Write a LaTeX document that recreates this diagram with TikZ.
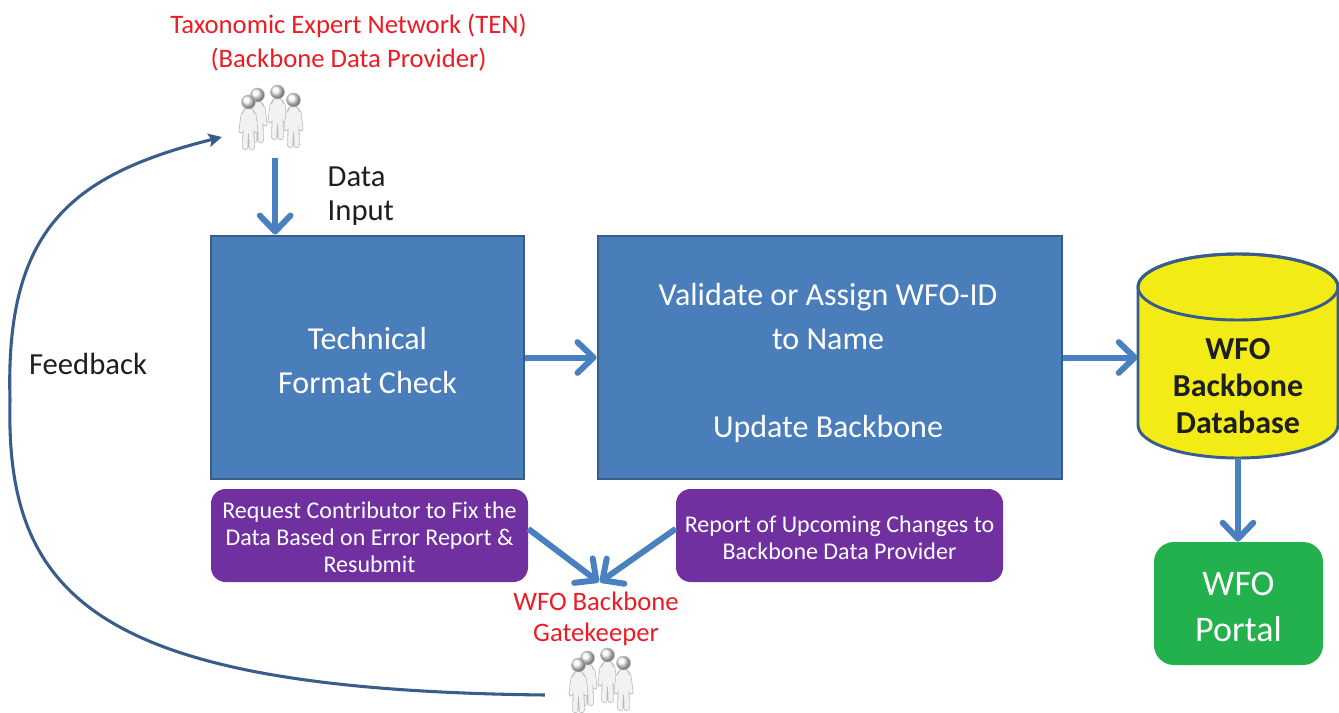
\documentclass[tikz,border=0pt]{standalone}
\usepackage{fontspec}
\setmainfont{Carlito}
\usetikzlibrary{arrows.meta}
\definecolor{boxblue}{RGB}{74,126,187}
\definecolor{boxedge}{RGB}{56,93,138}
\definecolor{arrowblue}{RGB}{72,128,192}
\definecolor{fbblue}{RGB}{56,93,138}
\definecolor{wfopurple}{RGB}{112,48,160}
\definecolor{portalgreen}{RGB}{34,177,76}
\definecolor{dbyellow}{RGB}{242,235,22}
\definecolor{labelred}{RGB}{237,28,36}
\definecolor{ink}{RGB}{30,30,30}
\tikzset{
  person/.pic={
    \draw[personedge, line width=3.6pt] (-5.5,13) -- (-7.5,29) (5.5,13) -- (7.5,29);
    \draw[personedge, line width=4.6pt] (-2.8,28) -- (-3.2,45) (2.8,28) -- (3.2,45);
    \draw[personedge, line width=9.6pt] (0,12) -- (0,26);
    \draw[personfill, line width=2.6pt] (-5.5,13) -- (-7.5,29) (5.5,13) -- (7.5,29);
    \draw[personfill, line width=3.4pt] (-2.8,28) -- (-3.2,45) (2.8,28) -- (3.2,45);
    \draw[personfill, line width=8.4pt] (0,12) -- (0,26);
    \shade[ball color=gray!8] (0,0) circle [radius=7];
    \draw[gray!50, line width=0.4pt] (0,0) circle [radius=7];
  },
  personedge/.style={draw=gray!55, line cap=round},
  personfill/.style={draw=gray!10, line cap=round},
  bluebox/.style={draw=boxedge, line width=2.2pt, fill=boxblue, inner sep=0pt},
  boxtext/.style={text=white, font=\fontsize{24}{33}\selectfont, align=center, inner sep=0pt},
  actionbox/.style={fill=wfopurple, rounded corners=11pt, inner sep=0pt},
  actiontext/.style={text=white, font=\fontsize{18}{20.25}\selectfont, align=center, inner sep=0pt},
  redlabel/.style={text=labelred, align=center},
  note/.style={text=ink, font=\fontsize{23}{25}\selectfont, align=left},
  iconbox/.style={minimum width=50pt, minimum height=49pt, inner sep=0pt},
  dbbox/.style={minimum width=150pt, minimum height=153pt, inner sep=0pt},
  dbtext/.style={text=ink, font=\fontsize{24}{28}\selectfont\bfseries, align=center},
  portalbox/.style={fill=portalgreen, rounded corners=15pt, inner sep=0pt,
    minimum width=126.75pt, minimum height=92.25pt},
  portaltext/.style={text=white, font=\fontsize{27}{34}\selectfont, align=center},
  flow/.style={draw=arrowblue, line width=4.5pt,
    -{Straight Barb[length=12pt, width=23pt, round]}},
  feedbackarrow/.style={draw=fbblue, line width=2.3pt,
    -{Stealth[length=10pt, width=10pt, inset=2pt]}},
}
\newcommand\wfocrowd[1]{%
  \begin{scope}[shift={#1}]
    \pic at (-11,-25) {person};
    \pic at (9,-28) {person};
    \pic at (-20,-18) {person};
    \pic at (25,-20) {person};
  \end{scope}}
\begin{document}
\begin{tikzpicture}[x=0.75pt, y=-0.75pt]
\fill[white] (0,0) rectangle (1339,713);
\useasboundingbox (0,0) rectangle (1339,713);

% labels
\node[redlabel, font=\fontsize{20}{25.5}\selectfont] (tenlabel) at (348.5,43)
  {Taxonomic Expert Network (TEN)\\(Backbone Data Provider)};
\node[iconbox] (ten) at (268.5,120) {};
\wfocrowd{(268.5,120)}
\node[note, anchor=west] (datainput) at (323,196) {Data\\Input};
\node[note] (feedback) at (88,364) {Feedback};

% main boxes
\node[bluebox, minimum width=234.75pt, minimum height=182.25pt] (check) at (367.5,357.5) {};
\node[boxtext] (checktext) at ([yshift=-2.5pt]check.center) {Technical\\Format Check};
\node[bluebox, minimum width=348pt, minimum height=182.25pt] (validate) at (830,357.5) {};
\node[boxtext] (validatetext) at ([xshift=-1.5pt, yshift=-3.8pt]validate.center)
  {Validate or Assign WFO-ID\\to Name\\[33pt]Update Backbone};

% database cylinder
\node[dbbox] (db) at (1238,356) {};
\filldraw[fill=dbyellow, draw=boxedge, line width=2.2pt]
  (1138,287) -- (1138,425) arc[start angle=180, end angle=0, x radius=100, y radius=33]
  -- (1338,287) arc[start angle=0, end angle=-180, x radius=100, y radius=33] -- cycle;
\draw[boxedge, line width=2.2pt] (1238,287) ellipse [x radius=100, y radius=33];
\node[dbtext] (dbtext) at (1238,386) {WFO\\Backbone\\Database};

\node[portalbox] (portal) at (1238.5,603.5) {};
\node[portaltext] (portaltext) at ([yshift=-2.5pt]portal.center) {WFO\\Portal};

% purple notes
\node[actionbox, minimum width=237.75pt, minimum height=69.75pt] (fix) at (369.5,535.5) {};
\node[actiontext] (fixtext) at ([yshift=-1.5pt]fix.center)
  {Request Contributor to Fix the\\Data Based on Error Report \&\\Resubmit};
\node[actionbox, minimum width=245.25pt, minimum height=69.75pt] (report) at (839.5,535.5) {};
\node[actiontext] (reporttext) at ([yshift=-1.5pt]report.center)
  {Report of Upcoming Changes to\\Backbone Data Provider};

% gatekeeper
\node[redlabel, font=\fontsize{20}{23.25}\selectfont] (gklabel) at (596,619)
  {WFO Backbone\\Gatekeeper};
\node[iconbox] (gkicon) at (598.5,683) {};
\wfocrowd{(598.5,683)}

% connectors
\draw[flow, shorten <=4pt] ([xshift=5pt]ten.south) -- ([xshift=5pt]ten.south |- check.north);
\draw[flow] (check.east |- validate.west) -- (validate.west);
\draw[flow] (validate.east) -- (validate.east -| db.west);
\draw[flow] (db.south) -- (db.south |- portal.north);
\draw[flow] ([yshift=5pt]fix.east) -- ([xshift=2pt, yshift=4pt]gklabel.north);
\draw[flow] ([yshift=5pt]report.west) -- ([xshift=3pt, yshift=4pt]gklabel.north);
\draw[feedbackarrow] ([shift={(-20,12)}]gkicon.west)
  .. controls (100,690) and (5,600) .. (10,400)
  .. controls (5,230) and (70,175) .. ([shift={(-13,17)}]ten.west);
\end{tikzpicture}
\end{document}
